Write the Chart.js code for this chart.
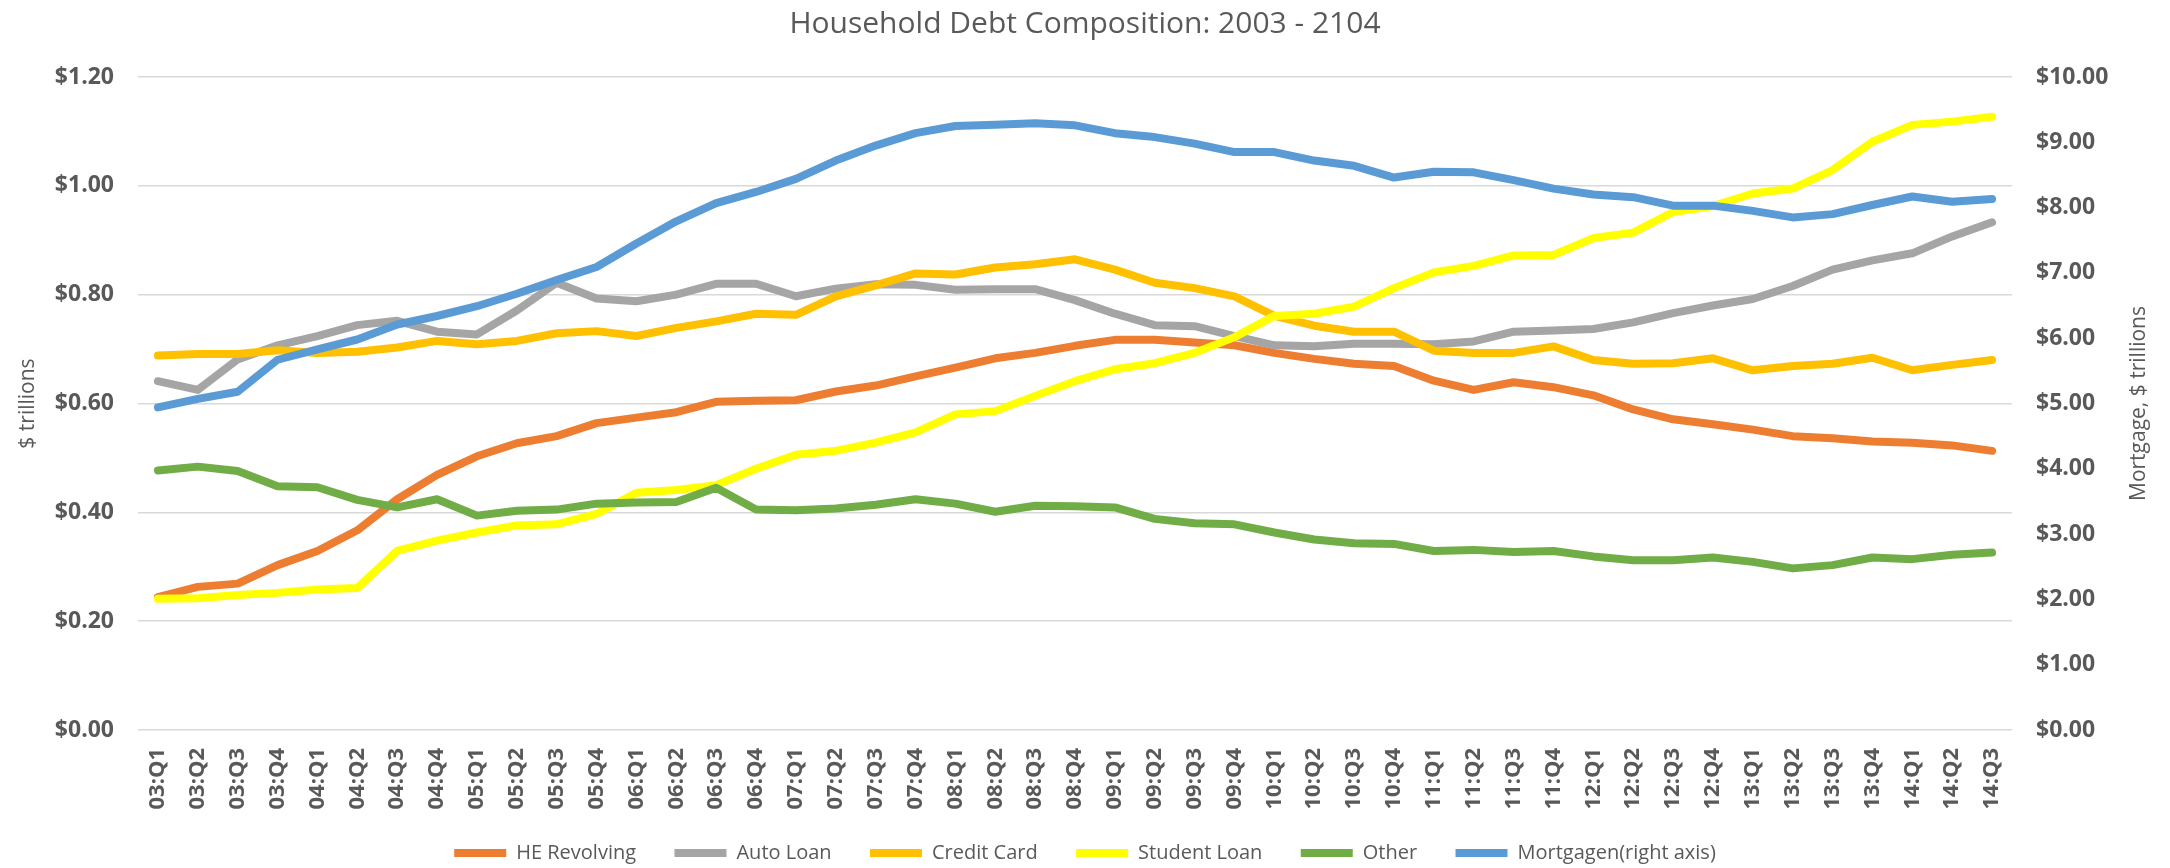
<!DOCTYPE html>
<html>
<head>
<meta charset="utf-8">
<script src="https://cdn.jsdelivr.net/npm/chart.js@4.4.1/dist/chart.umd.min.js"></script>
<style>
html,body{margin:0;padding:0;background:#fff}
</style>
</head>
<body>
<canvas id="cDebt" width="2170" height="868"></canvas>
<script>
// ── Data ($ trillions) ──
var quarters=['03:Q1','03:Q2','03:Q3','03:Q4','04:Q1','04:Q2','04:Q3','04:Q4','05:Q1','05:Q2','05:Q3','05:Q4',
  '06:Q1','06:Q2','06:Q3','06:Q4','07:Q1','07:Q2','07:Q3','07:Q4','08:Q1','08:Q2','08:Q3','08:Q4',
  '09:Q1','09:Q2','09:Q3','09:Q4','10:Q1','10:Q2','10:Q3','10:Q4','11:Q1','11:Q2','11:Q3','11:Q4',
  '12:Q1','12:Q2','12:Q3','12:Q4','13:Q1','13:Q2','13:Q3','13:Q4','14:Q1','14:Q2','14:Q3'];

var heRevolving=[0.244,0.263,0.269,0.303,0.329,0.367,0.424,0.469,0.503,0.527,0.540,0.564,
  0.574,0.584,0.603,0.605,0.606,0.622,0.633,0.650,0.666,0.683,0.693,0.706,
  0.717,0.717,0.712,0.707,0.693,0.682,0.673,0.669,0.642,0.625,0.639,
  0.630,0.615,0.589,0.571,0.562,0.552,0.540,0.536,0.530,0.528,0.523,0.513];

var autoLoan=[0.641,0.625,0.681,0.707,0.724,0.744,0.752,0.732,0.727,0.771,0.822,0.793,
  0.788,0.800,0.820,0.820,0.797,0.811,0.819,0.818,0.809,0.810,0.810,0.790,
  0.765,0.744,0.742,0.724,0.707,0.705,0.710,0.710,0.709,0.714,0.732,
  0.734,0.737,0.749,0.766,0.780,0.792,0.816,0.846,0.863,0.876,0.907,0.933];

var creditCard=[0.688,0.691,0.691,0.698,0.693,0.695,0.703,0.715,0.709,0.715,0.729,0.733,
  0.724,0.739,0.751,0.765,0.763,0.797,0.817,0.839,0.837,0.850,0.856,0.865,
  0.846,0.822,0.812,0.797,0.761,0.743,0.732,0.732,0.697,0.693,0.693,
  0.705,0.680,0.673,0.674,0.683,0.661,0.669,0.673,0.684,0.661,0.671,0.680];

var studentLoan=[0.241,0.242,0.248,0.252,0.258,0.261,0.329,0.348,0.363,0.376,0.378,0.397,
  0.436,0.441,0.450,0.480,0.506,0.513,0.528,0.547,0.580,0.586,0.614,0.641,
  0.663,0.674,0.693,0.722,0.761,0.765,0.778,0.812,0.841,0.853,0.872,
  0.873,0.904,0.914,0.952,0.963,0.986,0.995,1.029,1.081,1.112,1.118,1.127];

var other=[0.477,0.484,0.476,0.448,0.446,0.423,0.409,0.424,0.394,0.403,0.405,0.416,
  0.418,0.419,0.445,0.405,0.404,0.407,0.414,0.424,0.416,0.401,0.412,0.411,
  0.409,0.388,0.380,0.378,0.363,0.350,0.343,0.342,0.329,0.331,0.327,
  0.329,0.319,0.312,0.312,0.317,0.309,0.297,0.303,0.317,0.314,0.322,0.326];

// mortgage is on the right axis
var mortgage=[4.94,5.07,5.18,5.67,5.83,5.98,6.21,6.34,6.49,6.68,6.89,7.09,
  7.45,7.79,8.07,8.24,8.44,8.72,8.95,9.14,9.25,9.27,9.29,9.26,
  9.14,9.08,8.98,8.85,8.85,8.72,8.64,8.46,8.55,8.54,8.42,
  8.29,8.20,8.16,8.03,8.03,7.95,7.85,7.90,8.04,8.17,8.09,8.13];

var TXT='#595959', GRID='#d9d9d9', FONT='"Open Sans", "DejaVu Sans", sans-serif';

function ds(lbl,arr,col,axis,ord){
  return {label:lbl,data:arr,borderColor:col,backgroundColor:col,borderWidth:8,
    borderCapStyle:'round',borderJoinStyle:'round',pointRadius:0,tension:0,
    yAxisID:axis,order:ord};
}

/* axis titles – both read bottom-to-top like the original */
var axisTitles={id:'axisTitles',afterDraw:function(ch){
  var c=ch.ctx,a=ch.chartArea,my=(a.top+a.bottom)/2;
  c.save();c.fillStyle=TXT;c.font='21px '+FONT;c.textAlign='center';c.textBaseline='middle';
  [[28,'$ trillions'],[2139,'Mortgage, $ trillions']].forEach(function(t){
    c.save();c.translate(t[0],my);c.rotate(-Math.PI/2);c.fillText(t[1],0,0);c.restore();
  });
  c.restore();
}};

new Chart(document.getElementById('cDebt'),{
  type:'line',
  data:{labels:quarters,datasets:[
    ds('HE Revolving',heRevolving,'#ED7D31','yL',6),
    ds('Auto Loan',autoLoan,'#A5A5A5','yL',5),
    ds('Credit Card',creditCard,'#FFC000','yL',4),
    ds('Student Loan',studentLoan,'#FFFF00','yL',3),
    ds('Other',other,'#70AD47','yL',2),
    ds('Mortgagen(right axis)',mortgage,'#5B9BD5','yR',1)
  ]},
  options:{
    responsive:false,animation:false,devicePixelRatio:1,
    layout:{padding:{left:0,right:0,top:0,bottom:-5}},
    plugins:{
      title:{display:true,text:'Household Debt Composition: 2003 - 2104',color:TXT,
        font:{family:FONT,size:30,weight:'normal'},padding:{top:6,bottom:35}},
      legend:{position:'bottom',labels:{color:TXT,font:{family:FONT,size:20},usePointStyle:true,
        pointStyle:'line',pointStyleWidth:52,padding:28,
        // a little extra room after each entry (legend padding is kept small so the x labels fit)
        generateLabels:function(ch){
          var it=Chart.defaults.plugins.legend.labels.generateLabels(ch);
          it.forEach(function(l){if(l.datasetIndex!==5)l.text+='  ';});
          return it;
        },
        sort:function(a,b){return a.datasetIndex-b.datasetIndex;}}},
      tooltip:{enabled:false}
    },
    scales:{
      x:{offset:true,grid:{display:false,drawTicks:false},border:{display:false},
        ticks:{autoSkip:false,maxRotation:90,minRotation:90,padding:18,color:TXT,
          font:{family:FONT,size:22,weight:'bold'}},
        afterFit:function(s){s.height=873-s.chart.legend.height-730;}},
      yL:{position:'left',min:0,max:1.2,
        grid:{color:GRID,lineWidth:1.5,drawTicks:false},border:{display:false},
        ticks:{stepSize:0.2,padding:24,color:TXT,font:{family:FONT,size:23,weight:'bold'},
          callback:function(v){return '$'+v.toFixed(2);}},
        afterFit:function(s){s.width=138;}},
      yR:{position:'right',min:0,max:10,
        grid:{display:false,drawTicks:false},border:{display:false},
        ticks:{stepSize:1,padding:24,color:TXT,font:{family:FONT,size:23,weight:'bold'},
          callback:function(v){return '$'+v.toFixed(2);}},
        afterFit:function(s){s.width=158;}}
    }
  },
  plugins:[axisTitles]
});
</script>
</body>
</html>
